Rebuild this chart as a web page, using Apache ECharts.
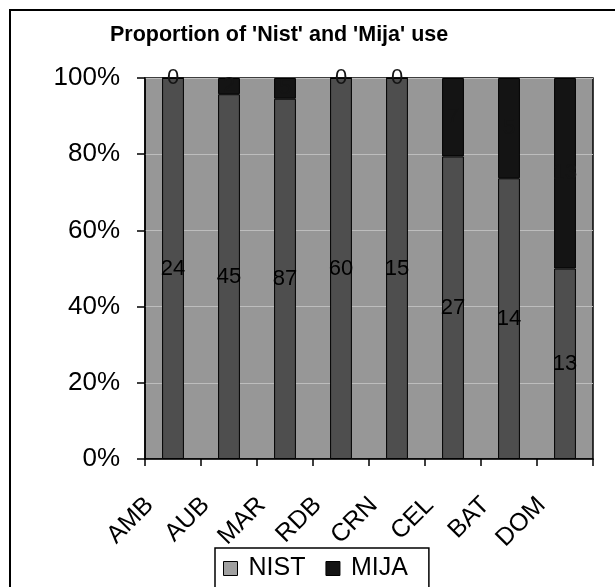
<!DOCTYPE html>
<html>
<head>
<meta charset="utf-8">
<script src="https://cdn.jsdelivr.net/npm/echarts@6/dist/echarts.min.js"></script>
<style>
html,body{margin:0;padding:0;background:#fff;}
#main{width:615px;height:587px;}
</style>
</head>
<body>
<div id="main"></div>
<script>
var categories = ['AMB','AUB','MAR','RDB','CRN','CEL','BAT','DOM'];
var nistCounts = [24,45,87,60,15,27,14,13];
var mijaCounts = [0,2,5,0,0,7,5,13];
var yTicks = [0,20,40,60,80,100];

var FONT = '"Liberation Sans", Arial, sans-serif';
var MIJA_COLOR = '#141414';
function pct(a, b, i){ var t = a[i] + b[i]; return t ? a[i] / t * 100 : 0; }
var nistPct = categories.map(function(c,i){ return pct(nistCounts, mijaCounts, i); });
var mijaPct = categories.map(function(c,i){ return pct(mijaCounts, nistCounts, i); });

var chart = echarts.init(document.getElementById('main'), null, {renderer:'canvas'});
chart.setOption({
  backgroundColor:'#ffffff',
  animation:false,
  title:{
    text:"Proportion of 'Nist' and 'Mija' use",
    left:105, top:19,
    textStyle:{fontFamily:FONT, fontSize:21.5, fontWeight:'bold', color:'#000'}
  },
  graphic:[{
    type:'rect', z:-10, silent:true,
    shape:{x:10, y:10, width:700, height:700},
    style:{fill:'none', stroke:'#000', lineWidth:2}
  }],
  legend:{
    left:215, top:548,
    padding:[8,21,8,8],
    borderColor:'#000', borderWidth:1.5,
    itemWidth:14, itemHeight:14, itemGap:20,
    textStyle:{fontFamily:FONT, fontSize:25, color:'#000', padding:[0,0,0,6]},
    data:[
      {name:'NIST', icon:'rect', itemStyle:{color:'#a0a0a0', borderColor:'#000', borderWidth:1}},
      {name:'MIJA', icon:'rect', itemStyle:{color:MIJA_COLOR, borderColor:'#000', borderWidth:1}}
    ]
  },
  grid:{
    left:145, right:22, top:78, bottom:128,
    show:true, backgroundColor:'#979797', borderColor:'#000', borderWidth:1.5
  },
  xAxis:{
    type:'category', data:categories,
    axisLine:{lineStyle:{color:'#000', width:1.5}},
    axisTick:{show:true, length:7, lineStyle:{color:'#000', width:1.5}},
    axisLabel:{rotate:45, margin:19, padding:[0,33,0,0], fontFamily:FONT, fontSize:25, color:'#000', interval:0}
  },
  yAxis:{
    type:'value', min:0, max:100, interval:20,
    axisLine:{show:true, lineStyle:{color:'#000', width:1.5}},
    axisTick:{show:true, length:8, lineStyle:{color:'#000', width:1.5}},
    axisLabel:{margin:25, fontFamily:FONT, fontSize:26, color:'#000',
      formatter:function(v){ return yTicks.indexOf(v) >= 0 ? v + '%' : ''; }},
    splitLine:{show:true, lineStyle:{color:'#bdbdbd', width:1}}
  },
  series:[
    {
      name:'NIST', type:'bar', stack:'total', barWidth:'39%',
      data:nistPct,
      itemStyle:{color:'#4e4e4e', borderColor:'#000', borderWidth:1},
      label:{show:true, position:'inside', fontFamily:FONT, fontSize:22, color:'#000',
        formatter:function(p){ return String(nistCounts[p.dataIndex]); }}
    },
    {
      name:'MIJA', type:'bar', stack:'total', barWidth:'39%',
      data:mijaPct,
      itemStyle:{color:MIJA_COLOR, borderColor:'#000', borderWidth:1},
      label:{show:true, position:'inside', fontFamily:FONT, fontSize:22, color:MIJA_COLOR,
        formatter:function(p){ return String(mijaCounts[p.dataIndex]); }}
    }
  ]
});
</script>
</body>
</html>
